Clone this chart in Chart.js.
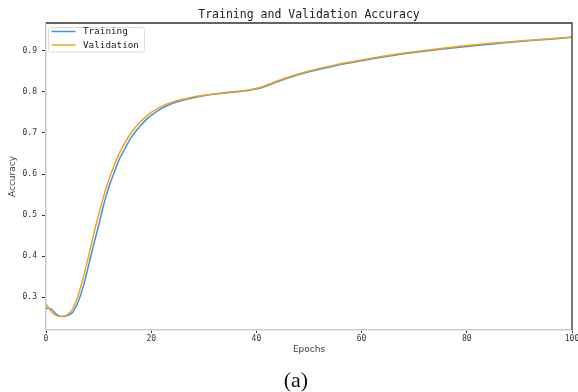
<!DOCTYPE html>
<html>
<head>
<meta charset="utf-8">
<title>Training and Validation Accuracy</title>
<script src="https://cdn.jsdelivr.net/npm/chart.js@4.4.1/dist/chart.umd.min.js"></script>
<style>
  html, body { margin: 0; padding: 0; background: #fff; overflow: hidden; }
  #wrap { position: relative; width: 578px; height: 392px; overflow: hidden; }
  #chartCanvas { display: block; }
  #caption {
    position: absolute; left: 0; top: 369px; width: 592px;
    text-align: center; font: 22px/22px "Liberation Serif", "Times New Roman", serif; color: #111;
  }
</style>
</head>
<body>
<div id="wrap">
  <canvas id="chartCanvas" width="592" height="392"></canvas>
  <div id="caption">(a)</div>
</div>
<script>
// ------- Data -------
const epochs = [0, 1, 2, 3, 4, 5, 6, 7, 8, 9, 10, 11, 12, 13, 14, 15, 16, 17, 18, 19, 20,
  22, 24, 26, 28, 30, 33, 36, 39, 41, 43, 46, 50, 55, 60, 65, 70, 75, 80, 85, 90, 95, 100];

const trainingAcc = [0.273, 0.271, 0.258, 0.253, 0.255, 0.262, 0.285, 0.322, 0.372, 0.425,
  0.474, 0.527, 0.570, 0.605, 0.638, 0.662, 0.685, 0.703, 0.718, 0.732, 0.743,
  0.760, 0.772, 0.780, 0.786, 0.791, 0.796, 0.800, 0.805, 0.810, 0.820, 0.834,
  0.849, 0.864, 0.876, 0.887, 0.896, 0.904, 0.911, 0.917, 0.923, 0.928, 0.933];

const validationAcc = [0.283, 0.265, 0.255, 0.253, 0.257, 0.270, 0.300, 0.343, 0.395, 0.450,
  0.500, 0.548, 0.588, 0.622, 0.652, 0.676, 0.697, 0.714, 0.728, 0.740, 0.750,
  0.765, 0.775, 0.782, 0.788, 0.792, 0.797, 0.801, 0.806, 0.812, 0.822, 0.836,
  0.851, 0.866, 0.878, 0.889, 0.898, 0.906, 0.913, 0.919, 0.924, 0.929, 0.934];

const xTicks = [0, 20, 40, 60, 80, 100];
const yTicks = [0.3, 0.4, 0.5, 0.6, 0.7, 0.8, 0.9];

const chartTitle = "Training and Validation Accuracy";

// ------- Helpers -------
const MONO = "'DejaVu Sans Mono', 'Liberation Mono', monospace";
const SANS = "'DejaVu Sans', 'Liberation Sans', sans-serif";

function toPoints(xs, ys) {
  return xs.map((x, i) => ({ x: x, y: ys[i] }));
}

// title centred over the plot area rather than the whole canvas
const plotTitle = {
  id: "plotTitle",
  afterDraw(chart) {
    const ctx = chart.ctx;
    const { left, right, top } = chart.chartArea;
    ctx.save();
    ctx.font = "11.5px " + MONO;
    ctx.fillStyle = "#222";
    ctx.textAlign = "center";
    ctx.textBaseline = "middle";
    ctx.fillText(chartTitle, (left + right) / 2, top - 8);
    ctx.restore();
  }
};

// legend box drawn inside the plot, upper left
const innerLegend = {
  id: "innerLegend",
  afterDatasetsDraw(chart) {
    const ctx = chart.ctx;
    const { left, top } = chart.chartArea;
    const x = left + 2.5, y = top + 4.5, w = 96, h = 24.5;
    ctx.save();
    ctx.fillStyle = "rgba(255,255,255,0.9)";
    ctx.strokeStyle = "#dcdcdc";
    ctx.lineWidth = 1;
    ctx.beginPath();
    ctx.roundRect(x, y, w, h, 2);
    ctx.fill();
    ctx.stroke();
    ctx.font = "9.3px " + MONO;
    ctx.textBaseline = "middle";
    ctx.fillStyle = "#222";
    chart.data.datasets.forEach((ds, i) => {
      const rowY = y + 4 + i * 13.5;
      ctx.strokeStyle = ds.borderColor;
      ctx.lineWidth = 1.5;
      ctx.beginPath();
      ctx.moveTo(x + 3, rowY);
      ctx.lineTo(x + 27, rowY);
      ctx.stroke();
      ctx.fillText(ds.label, x + 34.5, rowY + 0.5);
    });
    ctx.restore();
  }
};

// dark top and right spines
const frameEdges = {
  id: "frameEdges",
  afterDraw(chart) {
    const ctx = chart.ctx;
    const { left, right, top, bottom } = chart.chartArea;
    ctx.save();
    ctx.strokeStyle = "#333";
    ctx.lineWidth = 1.3;
    ctx.beginPath();
    ctx.moveTo(left, top);
    ctx.lineTo(right, top);
    ctx.lineTo(right, bottom);
    ctx.stroke();
    ctx.restore();
  }
};

// ------- Chart Rendering -------
const ctx = document.getElementById("chartCanvas").getContext("2d");

new Chart(ctx, {
  type: "line",
  data: {
    datasets: [
      {
        label: "Training",
        data: toPoints(epochs, trainingAcc),
        borderColor: "#3a94e6",
        borderWidth: 1.5,
        pointRadius: 0,
        cubicInterpolationMode: "monotone",
        order: 2,
      },
      {
        label: "Validation",
        data: toPoints(epochs, validationAcc),
        borderColor: "#f4a21c",
        borderWidth: 1.5,
        pointRadius: 0,
        cubicInterpolationMode: "monotone",
        order: 1,
      },
    ],
  },
  options: {
    responsive: false,
    animation: false,
    devicePixelRatio: 1,
    layout: { padding: { left: 0, right: 20, top: 23, bottom: 32 } },
    plugins: {
      legend: { display: false },
      tooltip: { enabled: false },
      title: { display: false },
    },
    scales: {
      x: {
        type: "linear",
        min: 0,
        max: 100,
        afterBuildTicks: (scale) => { scale.ticks = xTicks.map((v) => ({ value: v })); },
        afterFit: (scale) => { scale.height = 30; },
        grid: { display: true, drawOnChartArea: false, drawTicks: true, tickLength: 3, tickColor: "#333", tickWidth: 1 },
        border: { display: true, color: "#cccccc", width: 1.5 },
        ticks: { color: "#333", font: { family: MONO, size: 8 }, padding: 1, maxRotation: 0 },
        title: { display: true, text: "Epochs", color: "#444", font: { family: SANS, size: 9 }, padding: { top: 0, bottom: 4.6 } },
      },
      y: {
        type: "linear",
        min: 0.22,
        max: 0.968,
        afterBuildTicks: (scale) => { scale.ticks = yTicks.map((v) => ({ value: v })); },
        afterFit: (scale) => { scale.width = 46; },
        grid: { display: true, drawOnChartArea: false, drawTicks: true, tickLength: 4, tickColor: "#333", tickWidth: 1 },
        border: { display: true, color: "#cccccc", width: 1.5 },
        ticks: { color: "#333", font: { family: MONO, size: 8 }, padding: 5, callback: (v) => Number(v).toFixed(1) },
        title: { display: true, text: "Accuracy", color: "#444", font: { family: SANS, size: 9 }, padding: { top: 7.6, bottom: 0 } },
      },
    },
  },
  plugins: [plotTitle, innerLegend, frameEdges],
});
</script>
</body>
</html>
